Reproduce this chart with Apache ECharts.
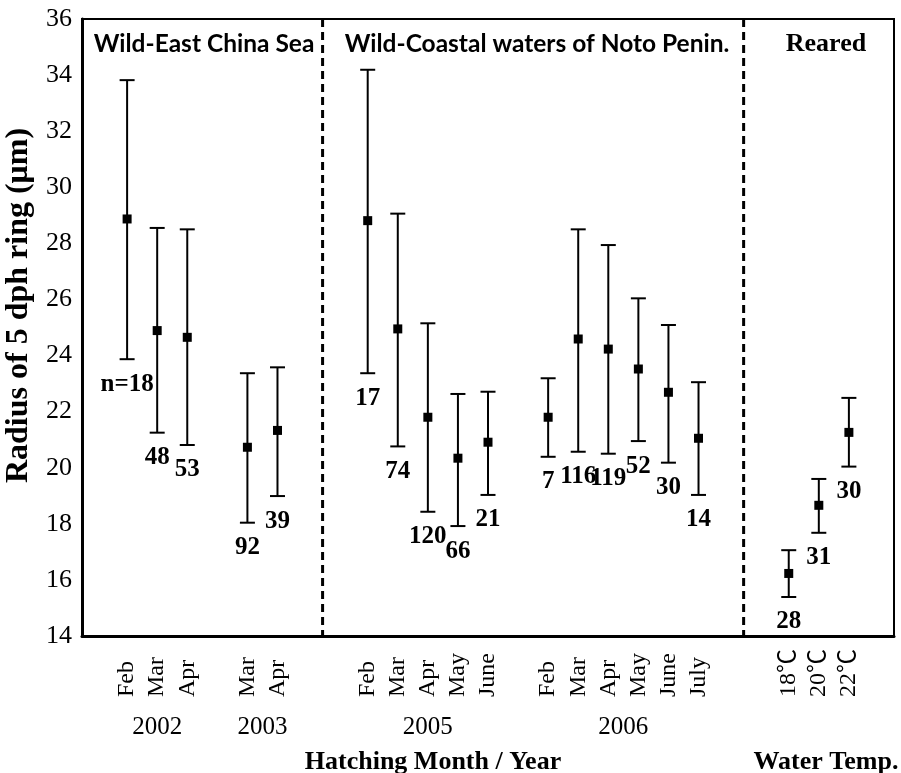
<!DOCTYPE html>
<html>
<head>
<meta charset="utf-8">
<script src="https://cdn.jsdelivr.net/npm/echarts@6/dist/echarts.min.js"></script>
<style>html,body{margin:0;padding:0;background:#fff;}#c{width:901px;height:773px;}</style>
</head>
<body>
<div id="c"></div>
<script>
// 27 slots along the x axis; empty strings are gaps between groups
const categories = ['', 'Feb', 'Mar', 'Apr', '', 'Mar', 'Apr', '', '', 'Feb', 'Mar', 'Apr', 'May', 'June', '', 'Feb', 'Mar', 'Apr', 'May', 'June', 'July', '', '', '18℃', '20℃', '22℃', ''];
const means  = [null, 28.87, 24.89, 24.65, null, 20.73, 21.33, null, null, 28.81, 24.95, 21.80, 20.34, 20.91, null, 21.80, 24.59, 24.23, 23.52, 22.69, 21.05, null, null, 16.23, 18.66, 21.26, null];
const lows   = [null, 23.87, 21.25, 20.81, null, 18.04, 18.99, null, null, 23.37, 20.76, 18.43, 17.92, 19.03, null, 20.39, 20.57, 20.50, 20.95, 20.18, 19.03, null, null, 15.39, 17.68, 20.04, null];
const highs  = [null, 33.82, 28.55, 28.50, null, 23.37, 23.58, null, null, 34.19, 29.06, 25.15, 22.63, 22.71, null, 23.19, 28.50, 27.94, 26.04, 25.09, 23.05, null, null, 17.06, 19.60, 22.49, null];
const nLabels = [null, 'n=18', '48', '53', null, '92', '39', null, null, '17', '74', '120', '66', '21', null, '7', '116', '119', '52', '30', '14', null, null, '28', '31', '30', null];

const yearLabels = ['2002', '2003', '2005', '2006'];
const yearFirstSlot = [1, 5, 9, 15];
const yearLastSlot = [3, 6, 13, 20];
const separatorSlots = [8, 22];

const regionTitles = ['Wild-East China Sea', 'Wild-Coastal waters of Noto Penin.', 'Reared'];
const xTitles = ['Hatching Month / Year', 'Water Temp.'];
const yTitle = 'Radius of 5 dph ring (μm)';

const yTicks = { min: 14, max: 36, interval: 2 };

// build series data
const meanData = [], barData = [], labelData = [];
for (let i = 0; i < categories.length; i++) {
  if (means[i] == null) continue;
  meanData.push([i, means[i]]);
  barData.push([i, lows[i], highs[i]]);
  labelData.push([i, lows[i], nLabels[i]]);
}
const yearMap = {};
yearLabels.forEach((y, k) => { yearMap[yearFirstSlot[k] + yearLastSlot[k] + 1] = y; });

const serif = '"Liberation Serif", "Times New Roman", serif';
const chart = echarts.init(document.getElementById('c'), null, { renderer: 'canvas' });

chart.setOption({
  backgroundColor: '#fff',
  animation: false,
  grid: { left: 82, right: 7, top: 19, bottom: 137, show: true, borderColor: '#000', borderWidth: 2, backgroundColor: 'transparent', containLabel: false, outerBoundsMode: 'none' },
  xAxis: [
    {
      type: 'category', data: categories, boundaryGap: true,
      axisLine: { show: true, lineStyle: { color: '#000', width: 3 } },
      axisTick: { show: false },
      axisLabel: {
        interval: 0, rotate: 90, align: 'left', verticalAlign: 'middle', margin: 61,
        color: '#000', fontFamily: serif + ', "Noto Sans CJK SC"', fontSize: 24
      },
      splitLine: { show: false }
    },
    { type: 'value', min: 0, max: categories.length, show: false, gridIndex: 0 },
    {
      type: 'value', min: 0, max: categories.length * 2, interval: 1, position: 'bottom', gridIndex: 0,
      axisLine: { show: false }, axisTick: { show: false }, splitLine: { show: false },
      axisLabel: {
        margin: 79, color: '#000', fontFamily: serif, fontSize: 25,
        showMinLabel: true, showMaxLabel: true,
        formatter: v => yearMap[v] || ''
      }
    }
  ],
  yAxis: {
    type: 'value', min: yTicks.min, max: yTicks.max, interval: yTicks.interval,
    axisLine: { show: true, lineStyle: { color: '#000', width: 3 } },
    axisTick: { show: false },
    splitLine: { show: false },
    axisLabel: { color: '#000', fontFamily: serif, fontSize: 26, margin: 10 },
    name: yTitle, nameLocation: 'middle', nameGap: 46,
    nameTextStyle: { color: '#000', fontFamily: serif, fontWeight: 'bold', fontSize: 32, padding: [0, 0, 0, 44] }
  },
  graphic: [
    { type: 'text', x: 204, y: 44, style: { text: regionTitles[0], font: 'bold 24.5px Lato', fill: '#000', align: 'center', verticalAlign: 'middle' } },
    { type: 'text', x: 537, y: 44, style: { text: regionTitles[1], font: 'bold 24.5px Lato', fill: '#000', align: 'center', verticalAlign: 'middle' } },
    { type: 'text', x: 826, y: 44, style: { text: regionTitles[2], font: 'bold 26px "Liberation Serif"', fill: '#000', align: 'center', verticalAlign: 'middle' } },
    { type: 'text', x: 433, y: 762, style: { text: xTitles[0], font: 'bold 26px "Liberation Serif"', fill: '#000', align: 'center', verticalAlign: 'middle' } },
    { type: 'text', x: 826, y: 762, style: { text: xTitles[1], font: 'bold 26px "Liberation Serif"', fill: '#000', align: 'center', verticalAlign: 'middle' } }
  ],
  series: [
    {
      type: 'custom', xAxisIndex: 1, data: separatorSlots.map(s => [s]),
      encode: { x: 0 },
      renderItem: (params, api) => {
        const cs = params.coordSys;
        const x = api.coord([api.value(0), yTicks.min])[0];
        return { type: 'line', shape: { x1: x, y1: cs.y, x2: x, y2: cs.y + cs.height },
          style: { stroke: '#000', lineWidth: 3, lineDash: [8, 5] } };
      },
      silent: true, z: 1
    },
    {
      type: 'custom', data: barData, encode: { x: 0, y: [1, 2] },
      renderItem: (params, api) => {
        const i = api.value(0);
        const pLo = api.coord([i, api.value(1)]);
        const pHi = api.coord([i, api.value(2)]);
        const hw = 7.5;
        const st = { stroke: '#000', lineWidth: 2 };
        return { type: 'group', children: [
          { type: 'line', shape: { x1: pLo[0], y1: pLo[1], x2: pHi[0], y2: pHi[1] }, style: st },
          { type: 'line', shape: { x1: pHi[0] - hw, y1: pHi[1], x2: pHi[0] + hw, y2: pHi[1] }, style: st },
          { type: 'line', shape: { x1: pLo[0] - hw, y1: pLo[1], x2: pLo[0] + hw, y2: pLo[1] }, style: st }
        ] };
      },
      z: 2
    },
    {
      type: 'scatter', data: meanData, symbol: 'rect', symbolSize: 9,
      itemStyle: { color: '#000', opacity: 1 }, z: 3
    },
    {
      type: 'scatter', data: labelData, symbolSize: 1, itemStyle: { color: 'rgba(0,0,0,0)', opacity: 1 },
      label: {
        show: true, position: 'bottom', distance: 12,
        formatter: p => p.data[2],
        color: '#000', fontFamily: serif, fontWeight: 'bold', fontSize: 25
      }, z: 4
    }
  ]
});
</script>
</body>
</html>
